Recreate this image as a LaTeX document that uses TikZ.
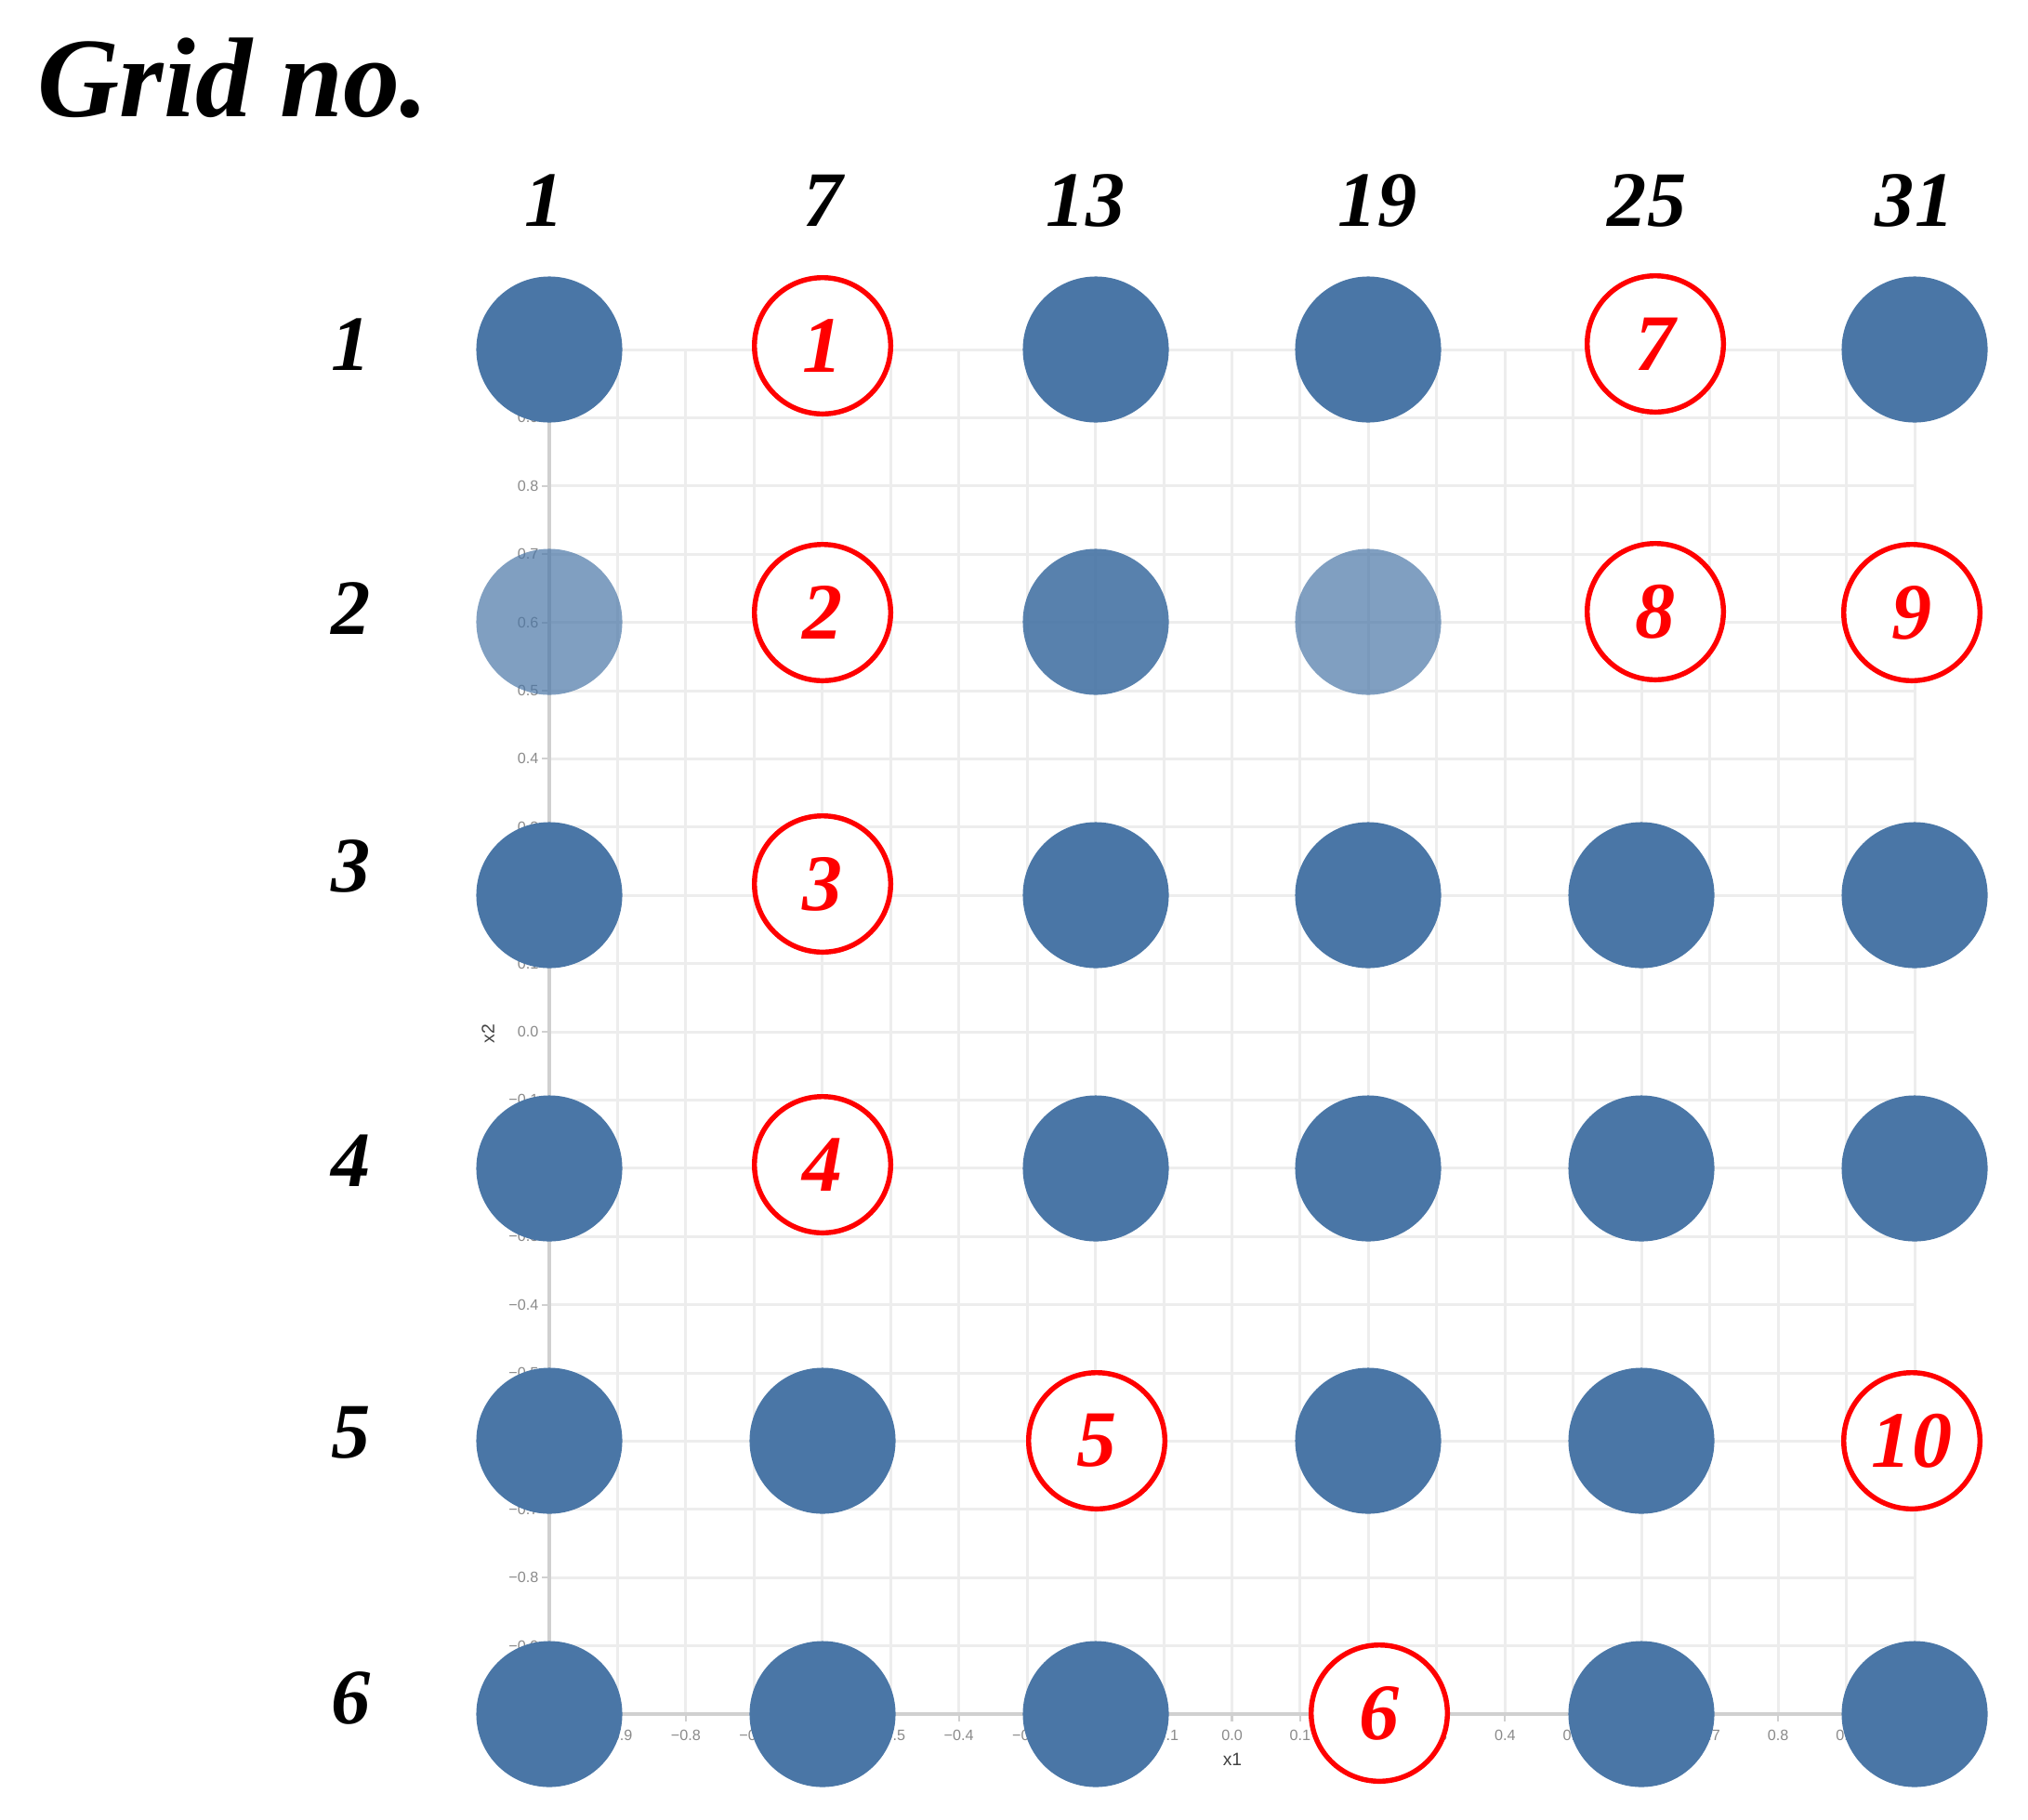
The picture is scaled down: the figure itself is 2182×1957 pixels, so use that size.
\documentclass[tikz,border=0pt]{standalone}
\usepackage{fontspec}
\setmainfont{Liberation Serif}
\setsansfont{Liberation Sans}
\definecolor{dotblue}{HTML}{4A76A6}
\definecolor{gridgray}{HTML}{EDEDED}
\definecolor{axisgray}{HTML}{D0D0D0}
\definecolor{ringred}{HTML}{FF0000}
\definecolor{ticktext}{HTML}{8A8A8A}
\begin{document}
\begin{tikzpicture}[x=0.01cm,y=-0.01cm,
  dot/.style={circle, fill=dotblue, minimum size=1.57cm, inner sep=0pt},
  ring/.style={circle, draw=ringred, line width=1.55pt, fill=white, minimum size=1.465cm, inner sep=0pt, text=ringred, font=\fontsize{24.5}{24.5}\selectfont\bfseries\itshape},
  lbl/.style={font=\fontsize{24}{24}\selectfont\bfseries\itshape, inner sep=0pt},
  ticklbl/.style={font=\sffamily\fontsize{4.6}{5}\selectfont, text=ticktext, inner sep=0pt},
  gridline/.style={draw=gridgray, line width=0.85pt},
  axisline/.style={draw=axisgray, line width=1pt}]
\useasboundingbox (0,0) rectangle (2182,1957);
% background chart grid
\foreach \k in {0,...,20} {
  \draw[gridline] ({591+73.45*\k},376) -- ({591+73.45*\k},1844);
  \draw[gridline] (591,{376+73.4*\k}) -- (2060,{376+73.4*\k});
}
\draw[axisline] (591,376) -- (591,1844) -- (2060,1844);
% x tick marks
\foreach \k in {0,...,20} {
  \draw[axisline, line width=0.6pt] ({591+73.45*\k},1844) -- ({591+73.45*\k},1852);
}
% x tick labels (those wholly hidden under ring 6 are left out)
\foreach \v [count=\k from 0] in {−1.0,−0.9,−0.8,−0.7,−0.6,−0.5,−0.4,−0.3,−0.2,−0.1,0.0,0.1,,0.3,0.4,0.5,0.6,0.7,0.8,0.9,1.0} {
  \node[ticklbl, name=xt\k] at ({591+73.45*\k},1867) {\v};
}
% y tick labels
\foreach \v [count=\k from 0] in {1.0,0.9,0.8,0.7,0.6,0.5,0.4,0.3,0.2,0.1,0.0,−0.1,−0.2,−0.3,−0.4,−0.5,−0.6,−0.7,−0.8,−0.9,−1.0} {
  \draw[axisline, line width=0.6pt] (583,{376+73.4*\k}) -- (591,{376+73.4*\k});
  \node[ticklbl, anchor=east, name=yt\k] at (580,{376+73.4*\k}) {\v};
}
\node[font=\sffamily\fontsize{5.5}{6}\selectfont, text=black!75, inner sep=0pt] (xlab) at (1326,1893) {x1};
\node[font=\sffamily\fontsize{5.5}{6}\selectfont, text=black!75, inner sep=0pt, rotate=90] (ylab) at (525,1112) {x2};
% blue dots
\node[dot] (b11) at (591,376) {};
\node[dot] (b13) at (1179,376) {};
\node[dot] (b14) at (1472,376) {};
\node[dot] (b16) at (2060,376) {};
\node[dot, fill opacity=0.7] (b21) at (591,669) {};
\node[dot, fill opacity=0.92] (b23) at (1179,669) {};
\node[dot, fill opacity=0.7] (b24) at (1472,669) {};
\node[dot] (b31) at (591,963) {};
\node[dot] (b33) at (1179,963) {};
\node[dot] (b34) at (1472,963) {};
\node[dot] (b35) at (1766,963) {};
\node[dot] (b36) at (2060,963) {};
\node[dot] (b41) at (591,1257) {};
\node[dot] (b43) at (1179,1257) {};
\node[dot] (b44) at (1472,1257) {};
\node[dot] (b45) at (1766,1257) {};
\node[dot] (b46) at (2060,1257) {};
\node[dot] (b51) at (591,1550) {};
\node[dot] (b52) at (885,1550) {};
\node[dot] (b54) at (1472,1550) {};
\node[dot] (b55) at (1766,1550) {};
\node[dot] (b61) at (591,1844) {};
\node[dot] (b62) at (885,1844) {};
\node[dot] (b63) at (1179,1844) {};
\node[dot] (b65) at (1766,1844) {};
\node[dot] (b66) at (2060,1844) {};
% red rings
\node[ring] (r1) at (885,372) {1};
\node[ring] (r2) at (885,659) {2};
\node[ring] (r3) at (885,951) {3};
\node[ring] (r4) at (885,1253) {4};
\node[ring] (r5) at (1180,1550) {5};
\node[ring] (r6) at (1484,1843) {6};
\node[ring] (r7) at (1781,370) {7};
\node[ring] (r8) at (1781,658) {8};
\node[ring] (r9) at (2057,659) {9};
\node[ring] (r10) at (2057,1550) {10};
% title and labels
\node[font=\fontsize{34.7}{35}\selectfont\bfseries\itshape, inner sep=0pt, anchor=base west] (title) at (40,125) {Grid no.};
\node[lbl] (c1) at (586,216) {1};
\node[lbl] (c7) at (886,216) {7};
\node[lbl] (c13) at (1168,216) {13};
\node[lbl] (c19) at (1482,216) {19};
\node[lbl] (c25) at (1772,216) {25};
\node[lbl] (c31) at (2060,216) {31};
\node[lbl] (w1) at (378,371) {1};
\node[lbl] (w2) at (378,655) {2};
\node[lbl] (w3) at (378,932) {3};
\node[lbl] (w4) at (378,1249) {4};
\node[lbl] (w5) at (378,1541) {5};
\node[lbl] (w6) at (378,1827) {6};
\end{tikzpicture}
\end{document}
